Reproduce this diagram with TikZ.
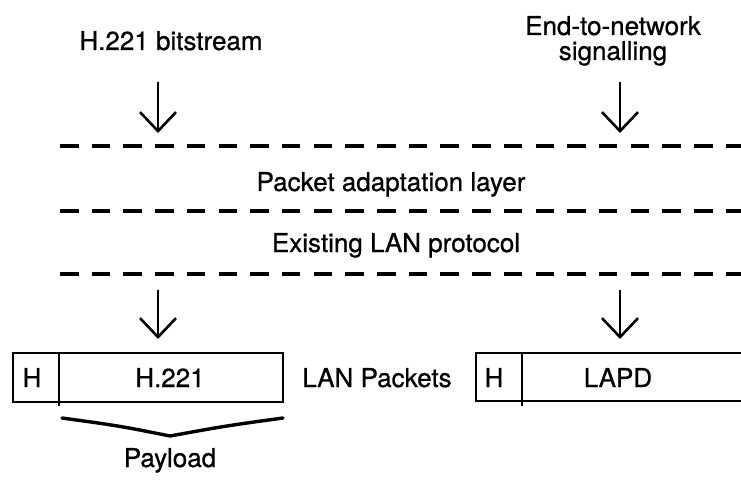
\documentclass[tikz,border=0pt]{standalone}
\usepackage{fontspec}
\setmainfont{TeX Gyre Heros}[FakeBold=0.8]
\usetikzlibrary{arrows.meta}
\begin{document}
\begin{tikzpicture}[x=1pt,y=-1pt,
  lbl/.style={inner sep=0pt,anchor=base,font=\fontsize{26}{30}\selectfont},
  flow/.style={line width=2.6pt,-{Straight Barb[length=19pt,width=36pt,line width=2.6pt]}},
  layer/.style={line width=4pt,dash pattern=on 18.5pt off 13.2pt},
  frame/.style={line width=2.8pt},
  brace/.style={line width=3.4pt,line cap=round,line join=round}]
  \useasboundingbox (0,0) rectangle (741,486);
  \clip (0,0) rectangle (741,486);

  % input labels
  \node[lbl] (bits) at (171,50) {H.221 bitstream};
  \node[lbl] (e2n) at (613,35) {End-to-network};
  \node[lbl] (sig) at (613,60) {signalling};

  % layer boundaries
  \coordinate (l1a) at (60,146);  \coordinate (l1b) at (745,146);
  \coordinate (l2a) at (60,211);  \coordinate (l2b) at (745,211);
  \coordinate (l3a) at (60,274);  \coordinate (l3b) at (745,274);
  \draw[layer] (l1a) -- (l1b);
  \draw[layer] (l2a) -- (l2b);
  \draw[layer] (l3a) -- (l3b);
  \node[lbl] (pal) at (391,191) {Packet adaptation layer};
  \node[lbl] (lan) at (396,252) {Existing LAN protocol};

  % downward arrows
  \coordinate (a1s) at (158,82);  \coordinate (a1e) at (158,133);
  \coordinate (a2s) at (620,82);  \coordinate (a2e) at (620,133);
  \coordinate (a3s) at (158,290); \coordinate (a3e) at (158,339);
  \coordinate (a4s) at (620,290); \coordinate (a4e) at (620,339);
  \draw[flow] (a1s) -- (a1e);
  \draw[flow] (a2s) -- (a2e);
  \draw[flow] (a3s) -- (a3e);
  \draw[flow] (a4s) -- (a4e);

  % LAN packets
  \draw[frame] (13,353) rectangle (283,402);
  \draw[frame] (59,353) -- (59,406);
  \node[lbl] (h1) at (32,387) {H};
  \node[lbl] (p1) at (170,387) {H.221};

  \draw[frame] (760,353) -- (476,353) -- (476,401) -- (760,401);
  \draw[frame] (522,353) -- (522,406);
  \node[lbl] (h2) at (494,387) {H};
  \node[lbl] (p2) at (618,387) {LAPD};

  \node[lbl] (pk) at (377,387) {LAN Packets};

  % payload brace
  \coordinate (b1) at (62,418);
  \coordinate (b2) at (170,436);
  \coordinate (b3) at (283,418);
  \draw[brace] (b1) .. controls (120,426) .. (b2) .. controls (225,426) .. (b3);
  \node[lbl] (pay) at (170,467) {Payload};
\end{tikzpicture}
\end{document}
